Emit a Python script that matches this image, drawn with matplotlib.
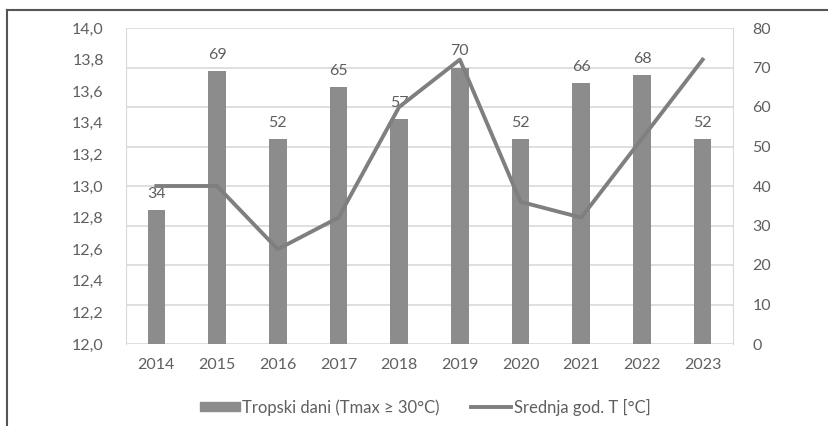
import matplotlib
matplotlib.use("Agg")
import matplotlib.pyplot as plt
from matplotlib.lines import Line2D
from matplotlib.patches import Patch

years = ["2014", "2015", "2016", "2017", "2018", "2019", "2020", "2021", "2022", "2023"]
tropical_days = [34, 69, 52, 65, 57, 70, 52, 66, 68, 52]
mean_temp = [13.0, 13.0, 12.6, 12.8, 13.5, 13.8, 12.9, 12.8, 13.3, 13.8]
left_ticks = [12.0, 12.2, 12.4, 12.6, 12.8, 13.0, 13.2, 13.4, 13.6, 13.8, 14.0]
right_ticks = [0, 10, 20, 30, 40, 50, 60, 70, 80]

plt.rcParams['font.family'] = ['Lato', 'DejaVu Sans']
txt = '#5f5f5f'
bar_c = '#8c8c8c'
line_c = '#7f7f7f'
grid_c = '#d9d9d9'
fs = 11.5

fig = plt.figure(figsize=(8.29, 4.26), dpi=100)
ax = fig.add_axes([126/829, 1-344/426, (733-126)/829, (344-28)/426])
ax2 = ax.twinx()

x = list(range(len(years)))
# bars on the right axis
ax2.bar(x, tropical_days, width=0.29, color=bar_c, zorder=2)
for xi, v in zip(x, tropical_days):
    ax2.text(xi, v + 2.3, str(v), ha='center', va='bottom', fontsize=fs, color=txt)
ax2.set_ylim(0, 80)
ax2.set_yticks(right_ticks)

# line on the left axis, drawn above bars
ax.set_zorder(ax2.get_zorder() + 1)
ax.patch.set_visible(False)
ax.plot(x, mean_temp, color=line_c, lw=2.8, zorder=3, solid_joinstyle='round')
ax.set_ylim(12.0, 14.0)
ax.set_yticks(left_ticks)
ax.set_yticklabels([f"{t:.1f}".replace('.', ',') for t in left_ticks])
ax.set_xlim(-0.5, len(years) - 0.5)
ax.set_xticks(x)
ax.set_xticklabels(years)

for t in right_ticks:
    ax2.axhline(t, color=grid_c, lw=1.2, zorder=0)

for a in (ax, ax2):
    for s in a.spines.values():
        s.set_visible(False)
    a.tick_params(length=0, labelsize=fs, colors=txt)
ax2.spines['left'].set_visible(True)
ax2.spines['left'].set_color(grid_c)
ax2.spines['right'].set_visible(True)
ax2.spines['right'].set_color(grid_c)
ax.tick_params(axis='y', pad=16)
ax2.tick_params(axis='y', pad=14)
ax.tick_params(axis='x', pad=10)

handles = [Patch(color=bar_c), Line2D([0], [0], color=line_c, lw=2.8)]
labels = ["Tropski dani (Tmax \u2265 30\u00b0C)", "Srednja god. T [\u00b0C]"]
leg = fig.legend(handles, labels, loc='center', bbox_to_anchor=(425/829, 1-407/426), ncol=2,
                 frameon=False, fontsize=12, handlelength=2.4, handleheight=0.45,
                 columnspacing=1.9, handletextpad=0.15)
for t in leg.get_texts():
    t.set_color(txt)

# outer frame
fig.add_artist(Line2D([7/829, 1.0], [1-10/426, 1-10/426], transform=fig.transFigure, color='#555555', lw=1.5))
fig.add_artist(Line2D([7/829, 7/829], [0.0, 1-10/426], transform=fig.transFigure, color='#555555', lw=1.5))

fig.savefig("out.png", dpi=100)
